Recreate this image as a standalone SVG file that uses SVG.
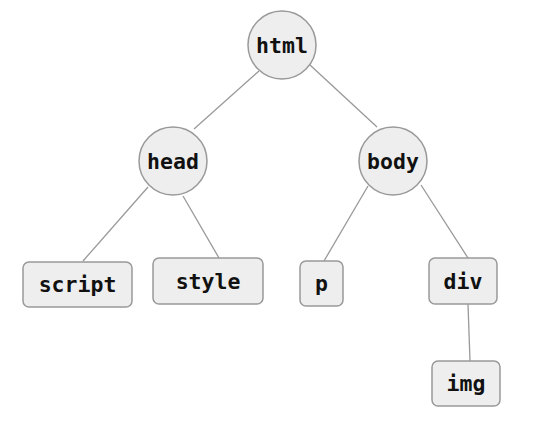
<svg xmlns="http://www.w3.org/2000/svg" width="551" height="437" viewBox="0 0 551 437">
<style>
.n{fill:#eeeeee;stroke:#999999;stroke-width:1.5}
.t{font-family:"DejaVu Sans Mono","Liberation Mono",monospace;font-weight:bold;font-size:21.5px;fill:#111111;text-anchor:middle;dominant-baseline:central}
.e{stroke:#999999;stroke-width:1.3;fill:none}
</style>
<rect width="551" height="437" fill="#ffffff"/>
<g id="connectors">
<line class="e" x1="259" y1="71" x2="194" y2="129"/>
<line class="e" x1="310" y1="65" x2="377" y2="127"/>
<line class="e" x1="148" y1="187" x2="83" y2="261"/>
<line class="e" x1="183" y1="196" x2="219" y2="258"/>
<line class="e" x1="368" y1="186" x2="324" y2="261"/>
<line class="e" x1="421" y1="185" x2="468" y2="258"/>
<line class="e" x1="468" y1="304" x2="470" y2="361"/>
</g>
<g id="html"><circle class="n" cx="282" cy="45" r="34"/><text class="t" x="282" y="45">html</text></g>
<g id="head"><circle class="n" cx="173" cy="161" r="34"/><text class="t" x="173" y="161">head</text></g>
<g id="body"><circle class="n" cx="393" cy="161" r="34"/><text class="t" x="393" y="161">body</text></g>
<g id="script"><rect class="n" x="23" y="262" width="109" height="45" rx="6"/><text class="t" x="77.5" y="284.5">script</text></g>
<g id="style"><rect class="n" x="153" y="258" width="110" height="46" rx="6"/><text class="t" x="208" y="281">style</text></g>
<g id="p"><rect class="n" x="300" y="261" width="43" height="45" rx="6"/><text class="t" x="321.5" y="283.5">p</text></g>
<g id="div"><rect class="n" x="429" y="258" width="68" height="46" rx="6"/><text class="t" x="463" y="281">div</text></g>
<g id="img"><rect class="n" x="432" y="361" width="68" height="45" rx="6"/><text class="t" x="466" y="383.5">img</text></g>
</svg>
